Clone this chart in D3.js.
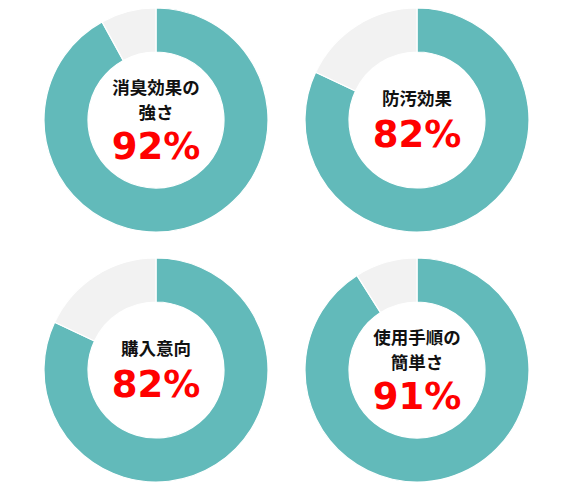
<!DOCTYPE html>
<html>
<head>
<meta charset="utf-8">
<script src="https://cdn.jsdelivr.net/npm/d3@7"></script>
<style>
  body { margin: 0; background: #fff; }
  svg { display: block; }
</style>
</head>
<body>
<script>
// Chart data
const labels = [["消臭効果の", "強さ"], ["防汚効果"], ["購入意向"], ["使用手順の", "簡単さ"]];
const values = [92, 82, 82, 91];

const width = 572;
const height = 492;

const svg = d3.select("body")
  .append("svg")
  .attr("width", width)
  .attr("height", height);

// 2x2 grid of donut centres
const col = d3.scaleOrdinal().domain([0, 1]).range([156, 417]);
const row = d3.scaleOrdinal().domain([0, 1]).range([120, 370]);

const outerR = 112;
const innerR = 68;

const pie = d3.pie().sort(null).value((d) => d);
const arc = d3.arc().innerRadius(innerR).outerRadius(outerR);
const colors = ["#62baba", "#f2f2f2"];

values.forEach((v, i) => {
  const g = svg.append("g")
    .attr("transform", `translate(${col(i % 2)},${row(Math.floor(i / 2))})`);

  g.selectAll("path")
    .data(pie([v, 100 - v]))
    .enter()
    .append("path")
    .attr("d", arc)
    .attr("fill", (d, j) => colors[j])
    .attr("stroke", "#fff")
    .attr("stroke-width", 1.2);

  const lines = labels[i];
  const twoLine = lines.length > 1;
  const firstY = twoLine ? -26 : -15;

  // label as one text element, one tspan per line
  g.append("text")
    .attr("class", "label")
    .attr("text-anchor", "middle")
    .style("font-family", "'Noto Sans CJK JP', sans-serif")
    .style("font-weight", "bold")
    .style("font-size", "17.5px")
    .attr("fill", "#111")
    .selectAll("tspan")
    .data(lines)
    .enter()
    .append("tspan")
    .attr("x", 0)
    .attr("y", (d, j) => firstY + j * 25)
    .text((d) => d);

  g.append("text")
    .attr("text-anchor", "middle")
    .attr("x", 0)
    .attr("y", twoLine ? 39 : 27)
    .style("font-family", "'DejaVu Sans', sans-serif")
    .style("font-weight", "bold")
    .style("font-size", "37px")
    .attr("fill", "#ff0000")
    .text(`${v}%`);
});
</script>
</body>
</html>
